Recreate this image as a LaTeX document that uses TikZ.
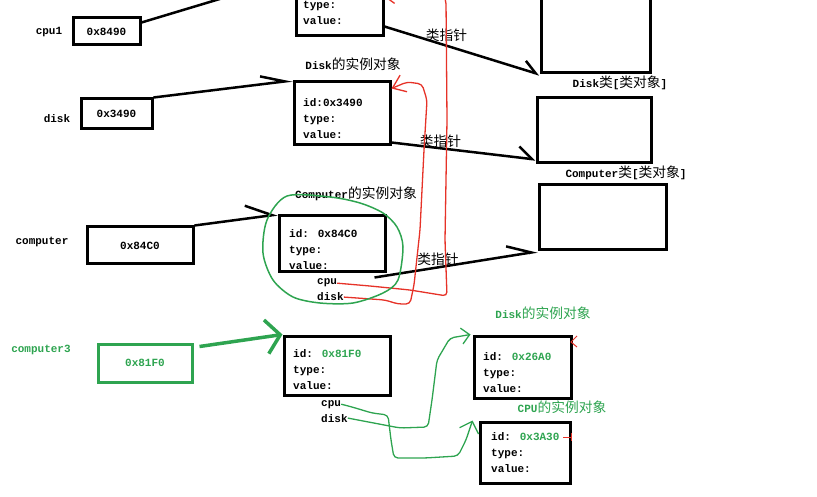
\documentclass[tikz,border=0pt]{standalone}
\usepackage{fontspec}
\setmainfont{Liberation Mono}
\newfontfamily\cjk{Noto Sans CJK SC}[Scale=1.25]
\usetikzlibrary{arrows.meta}
\definecolor{pengreen}{RGB}{46,164,80}
\definecolor{penred}{RGB}{230,50,40}
\newcommand\zh[1]{{\cjk\mdseries #1}}

\begin{document}
\begin{tikzpicture}[x=1pt,y=-1pt,font=\fontsize{11}{16}\selectfont\bfseries,
  box/.style={draw,line width=3pt,inner sep=0pt},
  fld/.style={anchor=north west,align=left,inner sep=0pt},
  lbl/.style={anchor=base west,inner sep=0pt},
  ptr/.style={line width=2.5pt},
  pen/.style={line width=1.3pt,rounded corners=4pt}]
\clip (0,0) rectangle (817,497);

% variables
\node at (49,32) (vcpu) {cpu1};
\node at (57,119) (vdisk) {disk};
\node at (42,242) (vcomp) {computer};
\node[pengreen] at (41,350) (vcomp3) {computer3};
\node[box,minimum width=67,minimum height=27] at (106.5,31.5) (r8490) {0x8490};
\node[box,minimum width=71,minimum height=30] at (116.5,114) (r3490) {0x3490};
\node[box,minimum width=106,minimum height=37] at (140,245.5) (r84C0) {0x84C0};
\node[box,draw=pengreen,text=pengreen,minimum width=94,minimum height=38] at (145,363) (r81F0) {0x81F0};

% instances
\node[box,minimum width=87,minimum height=58] at (339.5,7) (icpu) {};
\node[box,minimum width=96,minimum height=63] at (342,113.5) (idisk) {};
\node[box,minimum width=106,minimum height=56] at (332,244) (icomp) {};
\node[box,minimum width=106,minimum height=59] at (337,365.5) (icomp3) {};
\node[box,minimum width=97,minimum height=62] at (522.5,367) (idisk2) {};
\node[box,minimum width=90,minimum height=61] at (525,452.5) (icpu2) {};
\node[fld] at (303,1) (icpu-f) {type:\\value:};
\node[fld] at (303,98) (idisk-f) {id:0x3490\\type:\\value:};
\node[fld] at (289,229) (icomp-f) {id: 0x84C0\\type:\\value:};
\node[fld] at (293,349) (icomp3-f) {id: \textcolor{pengreen}{0x81F0}\\type:\\value:};
\node[fld] at (483,352) (idisk2-f) {id: \textcolor{pengreen}{0x26A0}\\type:\\value:};
\node[fld] at (491,432) (icpu2-f) {id: \textcolor{pengreen}{0x3A30}\\type:\\value:};
\node[lbl] at (317,285) (icomp-cpu) {cpu};
\node[lbl] at (317,301) (icomp-disk) {disk};
\node[lbl] at (321,406) (icomp3-cpu) {cpu};
\node[lbl] at (321,422) (icomp3-disk) {disk};
\node at (353,64) (idisk-t) {Disk\zh{的实例对象}};
\node at (356,194) (icomp-t) {Computer\zh{的实例对象}};
\node[pengreen] at (543,313) (idisk2-t) {Disk\zh{的实例对象}};
\node[pengreen] at (562,407) (icpu2-t) {CPU\zh{的实例对象}};

% class objects
\node[box,minimum width=109,minimum height=83] at (595.5,31.5) (cdisk) {};
\node[box,minimum width=114,minimum height=65] at (594,130.5) (ccomp) {};
\node[box,minimum width=127,minimum height=65] at (602.5,217.5) (ccomp2) {};
\node at (620,83) (cdisk-t) {Disk\zh{类}[\zh{类对象}]};
\node at (626,173) (ccomp-t) {Computer\zh{类}[\zh{类对象}]};

% variable -> instance
\draw[ptr] ([yshift=-6pt]r8490.north east) -- (icpu.north west);
\draw[ptr,-{Straight Barb[left,length=24pt,width=16pt]}] (r3490.north east) -- (idisk.north west);
\draw[ptr,-{Straight Barb[left,length=26pt,width=26pt]}] (r84C0.north east) -- (icomp.north west);
\draw[ptr,pengreen,line width=3.5pt,-{Straight Barb[length=14pt,width=34pt]}] ([shift={(6,4)}]r81F0.north east) -- (icomp3.north west);

% instance -> class
\draw[ptr,-{Straight Barb[left,length=13pt,width=18pt]}] ([yshift=11pt]icpu.south east) -- node[pos=0.4,above] (kp1) {\zh{类指针}} (cdisk.south west);
\draw[ptr,-{Straight Barb[left,length=14pt,width=22pt]}] ([yshift=4pt]idisk.south east) -- node[pos=0.34,above,yshift=-4pt] (kp2) {\zh{类指针}} ([yshift=5pt]ccomp.south west);
\draw[ptr,-{Straight Barb[left,length=24pt,width=20pt]}] ([shift={(-12,4)}]icomp.south east) -- node[pos=0.39,above,yshift=-3pt] (kp3) {\zh{类指针}} (ccomp2.south west);

% red pen: cpu / disk fields
\draw[pen,penred,-{Straight Barb[length=8pt,width=16pt]}] (icomp-cpu.east) -- (370,286) -- (410,290) -- (447,296) -- (445,240) -- (447,120) -- (446,0) -- (438,-12) -- ([yshift=10pt]icpu.east);
\draw[pen,penred,-{Straight Barb[length=12pt,width=18pt]}] (icomp-disk.east) -- (385,300) -- (398,304) -- (410,304) -- (414,285) -- (420,230) -- (424,150) -- (427,100) -- (422,84) -- (407,82) -- ([yshift=25pt]idisk.east);
\draw[penred,line width=1pt] (577,336) -- (571,342) -- (577,347);
\draw[penred,line width=1pt] (563,437) -- (571,437) (571,433) -- (571,441);

% green pen
\draw[pengreen,line width=1.5pt] plot[smooth cycle] coordinates {(287,196) (267,220) (263,253) (273,280) (293,297) (320,303) (353,303) (383,293) (398,280) (403,247) (397,227) (383,213) (360,203) (330,197)};
\draw[pen,pengreen,-{Straight Barb[length=10pt,width=20pt]}] (icomp3-cpu.east) -- (352,407) -- (372,413) -- (388,415) -- (391,440) -- (394,458) -- (425,458) -- (458,456) -- (466,440) -- ([xshift=-6pt]icpu2.north west);
\draw[pen,pengreen,-{Straight Barb[length=8pt,width=16pt]}] (icomp3-disk.east) -- (400,428) -- (428,427) -- (432,400) -- (437,360) -- (450,338) -- ([xshift=-2pt]idisk2.north west);
\end{tikzpicture}
\end{document}
